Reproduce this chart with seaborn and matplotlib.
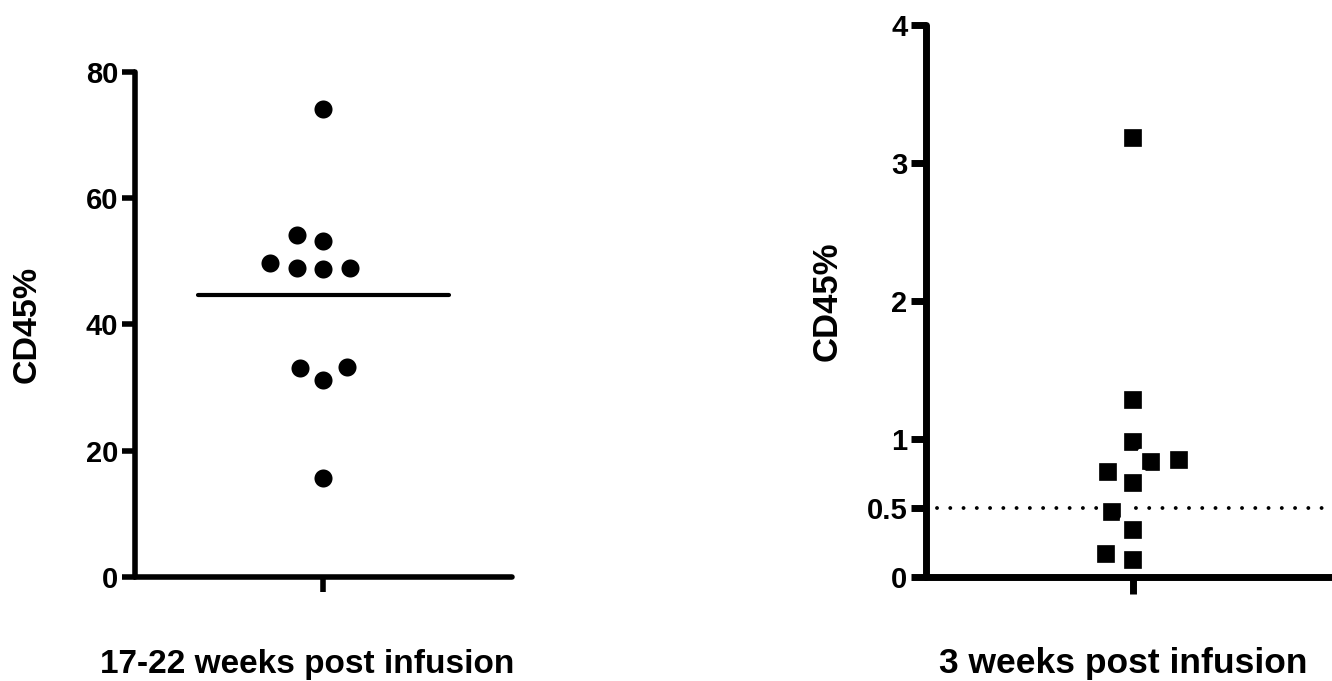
import numpy as np
import matplotlib
matplotlib.use("Agg")
import matplotlib.pyplot as plt
import seaborn as sns

# valores (CD45%)
cd45_17_22 = [74.1, 54.2, 53.2, 48.9, 48.75, 48.9, 49.8, 33.1, 31.2, 33.3, 15.7]
cd45_3 = [3.18, 1.28, 0.98, 0.83, 0.85, 0.76, 0.68, 0.47, 0.34, 0.17, 0.12]

ticks_izq = [0, 20, 40, 60, 80]
ticks_der = [0, 0.5, 1, 2, 3, 4]
etiquetas_der = ["0", "0.5", "1", "2", "3", "4"]
umbral = 0.5

titulo_izq = "17-22 weeks post infusion"
titulo_der = "3 weeks post infusion"
titulo_y = "CD45%"

sns.set_style("ticks")
plt.rcParams["font.family"] = ["Liberation Sans", "DejaVu Sans"]
plt.rcParams["font.weight"] = "bold"
plt.rcParams["text.color"] = "black"
plt.rcParams["axes.labelcolor"] = "black"
plt.rcParams["xtick.color"] = "black"
plt.rcParams["ytick.color"] = "black"

fig = plt.figure(figsize=(13.32, 6.81), dpi=100)
ax1 = fig.add_axes([0.10135, 0.15272, 0.28303, 0.74156])
ax2 = fig.add_axes([0.69520, 0.15272, 0.31081, 0.81057])


def estilo_eje(ax, lw, largo):
    sns.despine(ax=ax)
    for lado in ["left", "bottom"]:
        ax.spines[lado].set_linewidth(lw)
        ax.spines[lado].set_color("black")
        ax.spines[lado].set_capstyle("round")
    ax.tick_params(axis="both", direction="out", width=lw, length=largo,
                   color="black", labelcolor="black", labelsize=21, pad=2.5,
                   left=True, bottom=True)
    ax.tick_params(axis="x", length=largo + 1)
    for t in ax.get_yticklabels():
        t.set_fontweight("bold")
    ax.set_xticks([0])
    ax.set_xticklabels([""])
    for linea in ax.xaxis.get_ticklines() + ax.yaxis.get_ticklines():
        linea.set_solid_capstyle("round")


# panel izquierdo: circulos + media
sns.swarmplot(y=cd45_17_22, ax=ax1, color="black", marker="o",
              size=15.75, linewidth=2.75, edgecolor="white")
ax1.hlines(np.mean(cd45_17_22), -0.5, 0.5, color="black", lw=3,
           capstyle="round", zorder=1)
ax1.set_xlim(-0.75, 0.75)
ax1.set_ylim(0, 80)
ax1.set_yticks(ticks_izq)
ax1.set_yticklabels([str(t) for t in ticks_izq])
estilo_eje(ax1, 4, 9.5)
ax1.set_xlabel(titulo_izq, fontsize=24, fontweight="bold", color="black")
ax1.xaxis.label.set_va("baseline")
ax1.xaxis.set_label_coords(0.456, -0.190)
ax1.set_ylabel(titulo_y, fontsize=24.5, fontweight="bold", va="center",
               color="black")
ax1.yaxis.set_label_coords(-0.286, 0.5)

# panel derecho: cuadrados + linea punteada en 0.5
ax2.axhline(umbral, xmin=0.027, xmax=1, color="black", lw=2.8,
            ls=(0, (0.01, 3.4)), dash_capstyle="round", zorder=1)
sns.swarmplot(y=cd45_3, ax=ax2, color="black", marker="s",
              size=16.1, linewidth=3.1, edgecolor="white")
ax2.set_xlim(-0.75, 0.75)
ax2.set_ylim(0, 4)
ax2.set_yticks(ticks_der)
ax2.set_yticklabels(etiquetas_der)
estilo_eje(ax2, 5, 11)
ax2.set_xlabel(titulo_der, fontsize=25.5, fontweight="bold", color="black")
ax2.xaxis.label.set_va("baseline")
ax2.xaxis.set_label_coords(0.477, -0.174)
ax2.set_ylabel(titulo_y, fontsize=25, fontweight="bold", va="center",
               color="black")
ax2.yaxis.set_label_coords(-0.239, 0.5)

for ax in (ax1, ax2):
    ax.patch.set_alpha(0)

fig.savefig("out.png", dpi=100)
